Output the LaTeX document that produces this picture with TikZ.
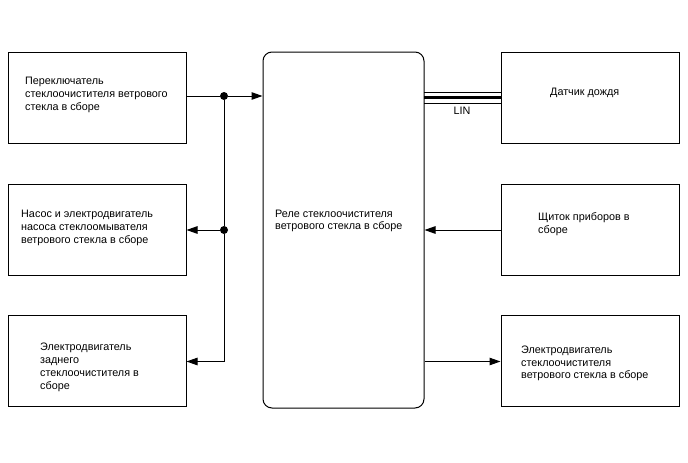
\documentclass[tikz,border=0pt]{standalone}
\usepackage{fontspec}
\setmainfont{Liberation Sans}
\usepackage{tikz}
\usetikzlibrary{positioning, arrows.meta}
\tikzset{
  box/.style={draw, line width=1pt, minimum width=178pt, minimum height=91pt},
  relay/.style={draw, line width=1pt, rounded corners=9pt, minimum width=161pt, minimum height=356pt},
  txt/.style={anchor=west, align=left, inner sep=0pt, font=\fontsize{10.8}{12.8}\selectfont},
  flow/.style={-{Triangle[length=11pt, width=7.5pt]}, line width=1pt},
  dot/.style={circle, fill, inner sep=0pt, minimum size=8pt}
}
\begin{document}
\begin{tikzpicture}[x=1pt, y=-1pt]
  \useasboundingbox (0,0) rectangle (688,463);
  % blocks
  \node[box] (sw) at (97,97.5) {};
  \node[box] (pump) at (97,230) {};
  \node[box] (rear) at (97,361) {};
  \node[relay] (rel) at (343.5,230) {};
  \node[box] (rain) at (590,97.5) {};
  \node[box] (inst) at (590,230) {};
  \node[box] (front) at (590,361) {};
  % texts
  \node[txt] (swt) at (25,95) {Переключатель\\стеклоочистителя ветрового\\стекла в сборе};
  \node[txt] (pumpt) at (21,228) {Насос и электродвигатель\\насоса стеклоомывателя\\ветрового стекла в сборе};
  \node[txt] (reart) at (40,367.5) {Электродвигатель\\заднего\\стеклоочистителя в\\сборе};
  \node[txt] (relt) at (275,221) {Реле стеклоочистителя\\ветрового стекла в сборе};
  \node[txt] (raint) at (550,93) {Датчик дождя};
  \node[txt] (instt) at (538,224.5) {Щиток приборов в\\сборе};
  \node[txt] (frontt) at (521,363.5) {Электродвигатель\\стеклоочистителя\\ветрового стекла в сборе};
  % junctions
  \node[dot] (j1) at (224,96) {};
  \node[dot] (j2) at (224,230) {};
  \coordinate (j3) at (224,361.5);
  % connectors
  \draw[flow] (sw.east |- j1) -- (j1) -- (rel.west |- j1);
  \draw[line width=1pt] (j1) -- (j2) -- (j3);
  \draw[flow] (j2) -- (pump.east |- j2);
  \draw[flow] (j3) -- (rear.east |- j3);
  \draw[flow] (inst.west |- j2) -- (rel.east |- j2);
  \draw[flow] (rel.east |- j3) -- (front.west |- j3);
  % LIN bus
  \coordinate (lin) at (424,97.5);
  \draw[line width=3.5pt] (lin) -- (rain.west |- lin);
  \draw[line width=1pt] ([yshift=-6pt]lin) -- ([yshift=-6pt]rain.west |- lin);
  \draw[line width=1pt] ([yshift=5.5pt]lin) -- ([yshift=5.5pt]rain.west |- lin);
  \node[txt, anchor=center] (lint) at (462,111) {LIN};
\end{tikzpicture}
\end{document}
